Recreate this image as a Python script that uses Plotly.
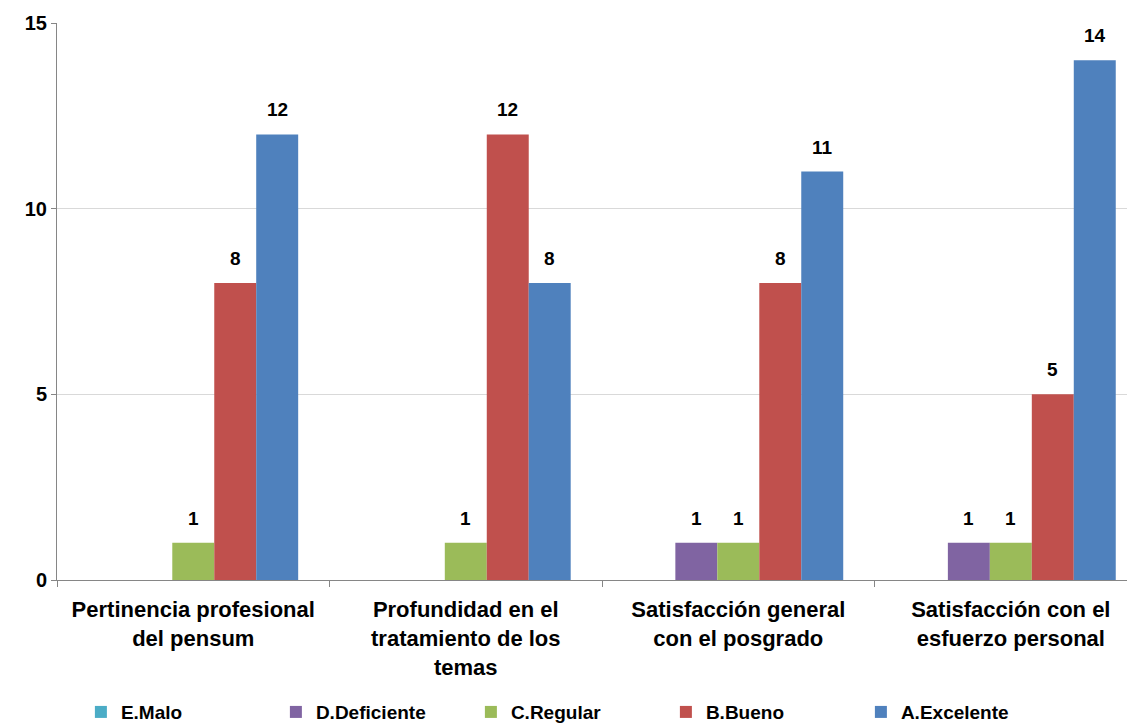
import plotly.graph_objects as go

categorias = [
    "Pertinencia profesional<br>del pensum",
    "Profundidad en el<br>tratamiento de los<br>temas",
    "Satisfacción general<br>con el posgrado",
    "Satisfacción con el<br>esfuerzo personal",
]
series = ["E.Malo", "D.Deficiente", "C.Regular", "B.Bueno", "A.Excelente"]
e_malo = [0, 0, 0, 0]
d_deficiente = [0, 0, 1, 1]
c_regular = [1, 1, 1, 1]
b_bueno = [8, 12, 8, 5]
a_excelente = [12, 8, 11, 14]
colores = ["#4bacc6", "#8064a2", "#9bbb59", "#c0504d", "#4f81bd"]

fuente = "Liberation Sans, Arial, sans-serif"
bargap = 0.23
datos = [e_malo, d_deficiente, c_regular, b_bueno, a_excelente]

fig = go.Figure()
for nombre, valores, color in zip(series, datos, colores):
    fig.add_trace(go.Bar(
        x=categorias, y=valores, name=f"<b>{nombre}</b>", marker_color=color,
        marker_line_width=0,
    ))

# etiquetas de datos (solo valores distintos de cero)
ancho = (1 - bargap) / len(series)
for i, valores in enumerate(datos):
    for j, v in enumerate(valores):
        if v:
            fig.add_annotation(x=j + (i - (len(series) - 1) / 2) * ancho, y=v,
                               text=f"<b>{v}</b>", showarrow=False, yanchor="bottom",
                               yshift=12, font=dict(size=19, color="black", family=fuente))

fig.update_layout(
    width=1135, height=727, barmode="group", bargap=bargap, bargroupgap=0,
    plot_bgcolor="white", paper_bgcolor="white",
    margin=dict(l=49, r=0, t=15, b=155),
    font=dict(family=fuente, color="black", size=18),
    legend=dict(orientation="h", x=0.022, y=-0.203, yanchor="top", xanchor="left",
                entrywidth=150, entrywidthmode="pixels", itemwidth=30,
                font=dict(size=19, family=fuente), traceorder="normal"),
)
fig.update_yaxes(range=[0, 15], dtick=5, showgrid=True, gridcolor="#d9d9d9", gridwidth=1,
                 showline=True, linecolor="#868686", linewidth=1, ticks="outside", ticklen=5,
                 tickcolor="#868686", tickfont=dict(size=20, family=fuente), tickprefix="<b>",
                 ticksuffix="</b>", zeroline=False)
fig.update_xaxes(range=[-0.5, 3.485], showline=True, linecolor="#868686", linewidth=1,
                 ticks="outside", tickson="boundaries", ticklen=6, tickcolor="#868686",
                 tickfont=dict(size=22, family=fuente), tickangle=0, ticklabelstandoff=10,
                 ticktext=[f"<b>{c}</b>" for c in categorias], tickvals=categorias)

fig.write_html("out.html")
